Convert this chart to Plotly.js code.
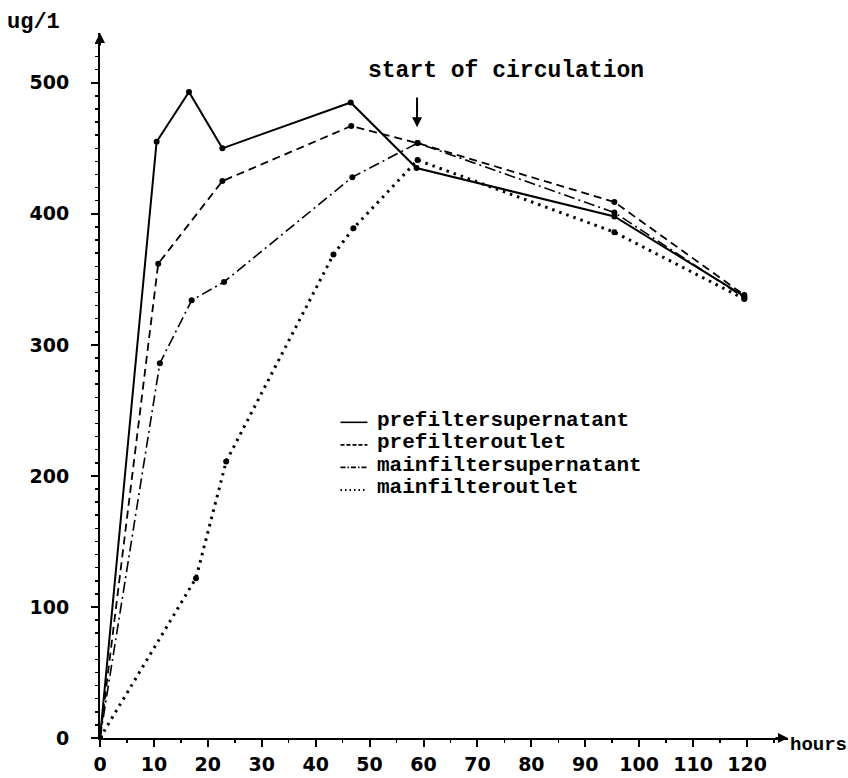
<!DOCTYPE html>
<html>
<head>
<meta charset="utf-8">
<script src="https://cdn.plot.ly/plotly-3.0.1.min.js"></script>
<style>html,body{margin:0;padding:0;background:#fff;}#chart{width:848px;height:778px;}</style>
</head>
<body>
<div id="chart"></div>
<script>
// ---- data ----
var seriesNames = ['prefiltersupernatant', 'prefilteroutlet', 'mainfiltersupernatant', 'mainfilteroutlet'];

var preSupHours = [0, 10.5, 16.5, 22.7, 46.5, 58.7, 95.4, 119.5];
var preSupVals  = [0, 455, 493, 450, 485, 435, 398, 337];

var preOutHours = [0, 10.8, 22.7, 46.6, 58.9, 95.4, 119.5];
var preOutVals  = [0, 362, 425, 467, 454, 409, 338];

var mainSupHours = [0, 11.1, 17.0, 23.0, 46.8, 58.9, 95.4, 119.5];
var mainSupVals  = [0, 286, 334, 348, 428, 454, 401, 336];

var mainOutHours = [0, 17.8, 23.4, 43.3, 47.0, 58.9, 95.4, 119.5];
var mainOutVals  = [0, 122, 211, 369, 389, 441, 386, 335];

var circulationStart = 58.8;
var yTickVals = [0, 100, 200, 300, 400, 500];
var xTickVals = [0, 10, 20, 30, 40, 50, 60, 70, 80, 90, 100, 110, 120];

// ---- styles ----
var dashes = ['solid', '8px,5px', '11px,4px,2px,4px', '2.5px,5px'];
var widths = [2, 1.8, 1.6, 3];

var xs = [preSupHours, preOutHours, mainSupHours, mainOutHours];
var ys = [preSupVals, preOutVals, mainSupVals, mainOutVals];

var traces = seriesNames.map(function (n, i) {
  return {
    type: 'scatter', mode: 'lines+markers', name: n,
    x: xs[i], y: ys[i],
    line: {color: 'black', width: widths[i], dash: dashes[i]},
    marker: {color: 'black', size: 6},
    showlegend: false, hoverinfo: 'x+y'
  };
});

var mono = 'Liberation Mono, Courier New, monospace';
var sans = 'DejaVu Sans, sans-serif';

var annotations = [
  {xref: 'paper', yref: 'paper', x: -0.097, y: 1.0156, xanchor: 'center', yanchor: 'middle',
   text: 'ug/1', showarrow: false, font: {family: mono, size: 22, color: 'black', weight: 'bold'}},
  {xref: 'paper', yref: 'paper', x: 1.0, y: 0.0, xanchor: 'left', yanchor: 'bottom', yshift: -20,
   text: 'hours', showarrow: false, font: {family: mono, size: 19, color: 'black', weight: 'bold'}},
  {xref: 'x', yref: 'y', x: 75.3, y: 509, xanchor: 'center', yanchor: 'middle',
   text: 'start of circulation', showarrow: false, font: {family: mono, size: 23, color: 'black', weight: 'bold'}},
  {xref: 'x', yref: 'y', x: circulationStart, y: 466, axref: 'x', ayref: 'y',
   ax: circulationStart, ay: 490, text: '', showarrow: true, arrowhead: 2, arrowsize: 1, arrowwidth: 2, arrowcolor: 'black'},
  // axis arrow heads
  {xref: 'x', yref: 'paper', x: 0, y: 1, ax: 0, ay: 14, text: '', showarrow: true,
   arrowhead: 2, arrowsize: 1, arrowwidth: 2, arrowcolor: 'black'},
  {xref: 'paper', yref: 'y', x: 1, y: 0, ax: -14, ay: 0, text: '', showarrow: true,
   arrowhead: 2, arrowsize: 1, arrowwidth: 2, arrowcolor: 'black'}
];

// legend drawn as text rows + short line samples
var legendY = [242.4, 225.2, 208.0, 190.8];
var sampleDash = ['solid', '4px,2px', '5px,2px,1.5px,2px', '1.5px,3px'];
var shapes = [];
seriesNames.forEach(function (n, i) {
  annotations.push({xref: 'x', yref: 'y', x: 51.0, y: legendY[i], xanchor: 'left', yanchor: 'middle',
    text: n, showarrow: false, font: {family: mono, size: 21, color: 'black', weight: 'bold'}});
  shapes.push({type: 'line', xref: 'x', yref: 'y', x0: 44.6, x1: 49.6, y0: legendY[i] - 1.5, y1: legendY[i] - 1.5,
    line: {color: 'black', width: i === 3 ? 2 : 1.6, dash: sampleDash[i]}});
});

var layout = {
  width: 848, height: 778,
  margin: {l: 100, r: 60, t: 33, b: 40},
  paper_bgcolor: 'white', plot_bgcolor: 'white',
  showlegend: false,
  xaxis: {
    range: [0, 127.6], tickvals: xTickVals, ticktext: xTickVals.map(String),
    showgrid: false, zeroline: false, showline: true, linecolor: 'black', linewidth: 2,
    ticks: 'outside', ticklen: 7, tickwidth: 2, tickcolor: 'black', ticklabelstandoff: 1,
    minor: {dtick: 5, ticks: 'outside', ticklen: 3, tickwidth: 1.5, tickcolor: 'black'},
    tickfont: {family: sans, size: 19, color: 'black', weight: 'bold'}
  },
  yaxis: {
    range: [0, 538], tickvals: yTickVals, ticktext: yTickVals.map(String),
    showgrid: false, zeroline: false, showline: true, linecolor: 'black', linewidth: 2,
    ticks: 'outside', ticklen: 7, tickwidth: 2, tickcolor: 'black', ticklabelstandoff: 18,
    minor: {dtick: 10, ticks: 'outside', ticklen: 3, tickwidth: 1.5, tickcolor: 'black'},
    tickfont: {family: sans, size: 19, color: 'black', weight: 'bold'}
  },
  annotations: annotations,
  shapes: shapes
};

Plotly.newPlot('chart', traces, layout, {staticPlot: true, displayModeBar: false});
</script>
</body>
</html>
